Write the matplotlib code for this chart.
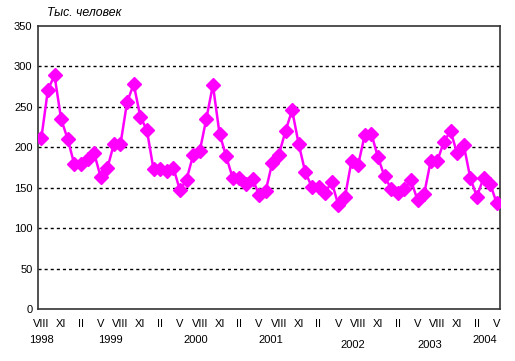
import numpy as np
import matplotlib
matplotlib.use("Agg")
import matplotlib.pyplot as plt
import matplotlib.transforms as mtransforms

# Monthly values, VIII 1998 - V 2004, thousands of people
values = [211, 271, 289, 235, 210,
          179, 179, 185, 193, 163, 174, 204, 204, 256, 278, 238, 221,
          173, 173, 171, 175, 147, 160, 190, 195, 235, 277, 217, 189,
          162, 162, 155, 161, 141, 146, 181, 191, 220, 246, 204, 169,
          151, 151, 144, 157, 129, 138, 183, 178, 215, 217, 188, 164,
          149, 144, 149, 159, 135, 142, 183, 183, 207, 220, 193, 203,
          162, 139, 162, 155, 131]
month_labels = ["VIII", "XI", "II", "V"] * 6
years = ["1998", "1999", "2000", "2001", "2002", "2003", "2004"]
year_pos = [0, 10.4, 23.4, 34.8, 47.2, 58.9, 67.2]
year_low = [False, False, False, False, True, True, False]

plt.rcParams["font.family"] = ["Liberation Sans", "DejaVu Sans"]

fig = plt.figure(figsize=(5.15, 3.61), dpi=100)
ax = fig.add_axes([38/515, 52/361, 462/515, 283/361])

x = np.arange(len(values))
ax.plot(x, values, color="#FF00FF", lw=1.8, marker="D", ms=6.8,
        mec="#FF00FF", mfc="#FF00FF", zorder=3)

ax.set_xlim(-0.5, len(values) - 0.5)
ax.set_ylim(0, 350)
ax.set_yticks(range(0, 351, 50))
ax.set_xticks(x[::3])
ax.set_xticklabels(month_labels)
ax.tick_params(length=0, labelsize=8, pad=7)
ax.tick_params(axis="y", pad=4)

for y in range(50, 301, 50):
    ax.axhline(y, color="black", lw=1, ls=(0, (2.2, 2.2)), zorder=1)

for s in ax.spines.values():
    s.set_color("#333333")
    s.set_linewidth(1.2)

trans = mtransforms.blended_transform_factory(ax.transData, ax.transAxes)
for yr, p, low in zip(years, year_pos, year_low):
    ax.text(p, -0.127 if low else -0.11, yr, transform=trans,
            ha="center", va="center", fontsize=8)

fig.text(47/515, 1 - 13/361, "Тыс. человек", ha="left", va="center",
         fontsize=8.8, style="italic")

fig.savefig("out.png", dpi=100)
